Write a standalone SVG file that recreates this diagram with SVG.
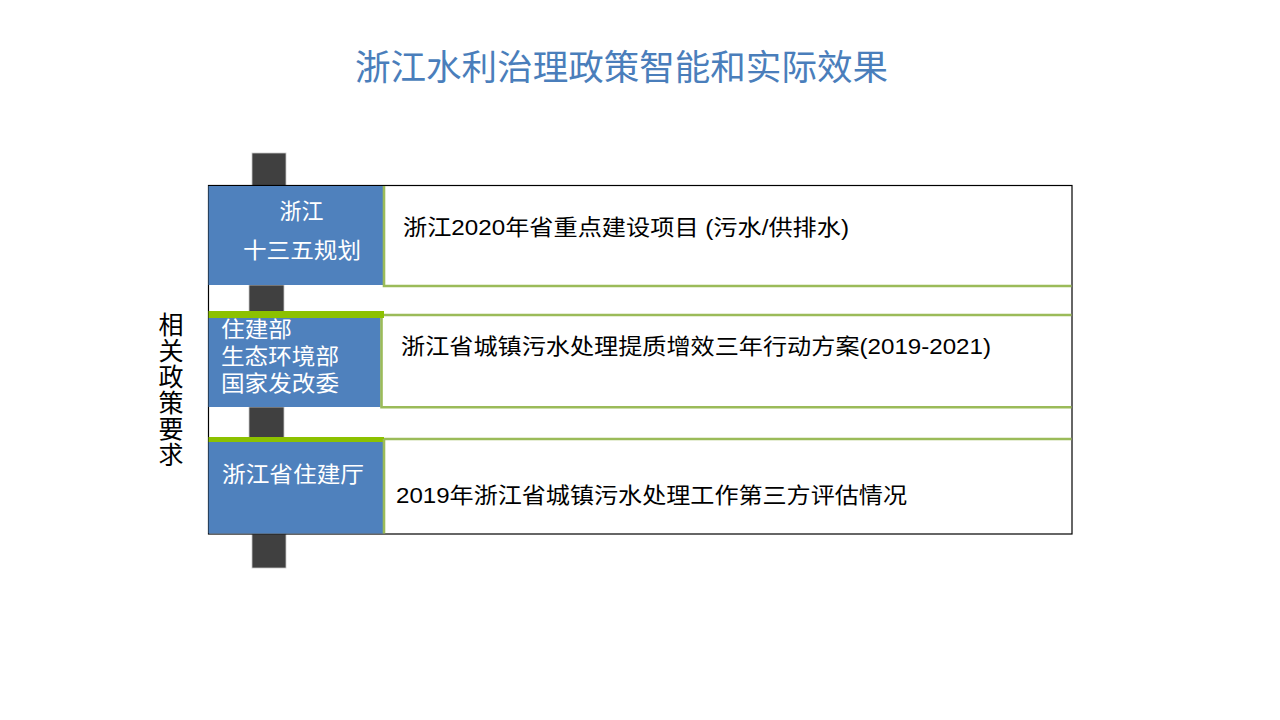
<svg xmlns="http://www.w3.org/2000/svg" width="1280" height="720" viewBox="0 0 1280 720">
<style>
.cjk{font-family:"Liberation Sans","Noto Sans CJK SC",sans-serif}
.title{font-size:35px;fill:#4a7ebb}
.white{font-size:22px;fill:#ffffff}
.black{font-size:22px;fill:#000000}
.side{font-size:25px;fill:#000000}
.blue{fill:#4f81bd}
.bright{fill:#8cc100}
.post{fill:#404040;stroke:#c8c8c8;stroke-width:0.8}
.gl{fill:none;stroke:#9bbb59;stroke-width:2.6}
</style>
<rect width="1280" height="720" fill="#ffffff"/>
<text class="cjk title" x="355" y="80" textLength="533" lengthAdjust="spacingAndGlyphs">浙江水利治理政策智能和实际效果</text>
<g id="posts">
<rect class="post" x="252" y="153" width="34" height="33"/>
<rect class="post" x="249" y="285" width="35" height="27"/>
<rect class="post" x="249" y="407" width="35" height="31"/>
<rect class="post" x="252" y="534" width="34" height="34"/>
</g>
<g id="frame">
<rect x="208.5" y="185.5" width="863.5" height="348.5" fill="none" stroke="#000000" stroke-width="1.2"/>
</g>
<g id="side-label">
<text class="cjk side" text-anchor="middle"><tspan x="171" y="334">相</tspan><tspan x="171" y="360">关</tspan><tspan x="171" y="386">政</tspan><tspan x="171" y="412">策</tspan><tspan x="171" y="438">要</tspan><tspan x="171" y="464">求</tspan></text>
</g>
<g id="row1">
<rect class="blue" x="208.5" y="186" width="175" height="99"/>
<text class="cjk white" x="301.5" y="219" text-anchor="middle">浙江</text>
<text class="cjk white" x="243" y="258" textLength="118" lengthAdjust="spacingAndGlyphs">十三五规划</text>
<text class="cjk black" x="403" y="235" textLength="446" lengthAdjust="spacingAndGlyphs">浙江2020年省重点建设项目 (污水/供排水)</text>
</g>
<g id="row2">
<rect class="bright" x="208.5" y="311" width="175.5" height="7"/>
<rect class="blue" x="208.5" y="318" width="172" height="89"/>
<text class="cjk white" x="221" y="337" textLength="71" lengthAdjust="spacingAndGlyphs">住建部</text>
<text class="cjk white" x="221" y="364" textLength="118" lengthAdjust="spacingAndGlyphs">生态环境部</text>
<text class="cjk white" x="221" y="391" textLength="118" lengthAdjust="spacingAndGlyphs">国家发改委</text>
<text class="cjk black" x="401" y="354" textLength="590" lengthAdjust="spacingAndGlyphs">浙江省城镇污水处理提质增效三年行动方案(2019-2021)</text>
</g>
<g id="row3">
<rect class="bright" x="208.5" y="437" width="175.5" height="5"/>
<rect class="blue" x="208.5" y="442" width="174.5" height="91.5"/>
<text class="cjk white" x="222" y="482" textLength="142" lengthAdjust="spacingAndGlyphs">浙江省住建厅</text>
<text class="cjk black" x="396" y="503" textLength="511" lengthAdjust="spacingAndGlyphs">2019年浙江省城镇污水处理工作第三方评估情况</text>
</g>
<g id="connectors">
<polyline class="gl" points="384,186 384,286 1071.5,286"/>
<polyline class="gl" points="384,315 1071.5,315"/>
<polyline class="gl" points="381.5,318 381.5,407.3 1071.5,407.3"/>
<polyline class="gl" points="384,439 1071.5,439"/>
<polyline class="gl" points="384,439 384,533.5"/>
</g>
</svg>
